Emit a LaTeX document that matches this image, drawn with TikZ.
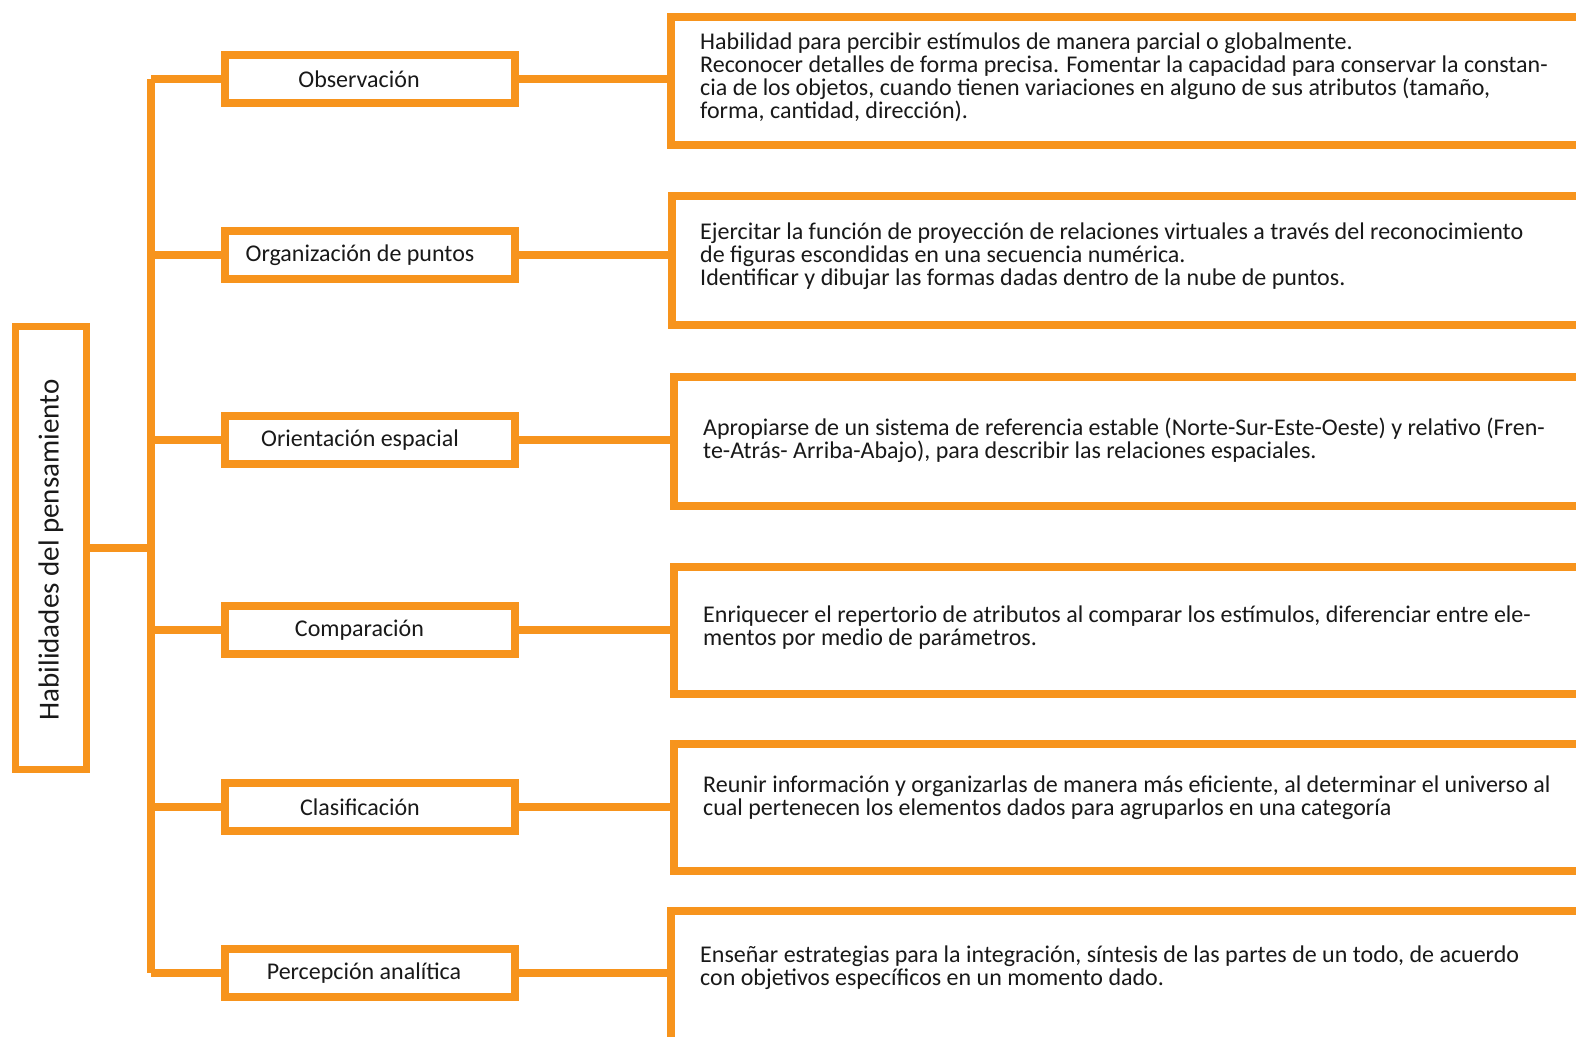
\documentclass[tikz,border=0pt]{standalone}
\usepackage{fontspec}
\setmainfont{Carlito}
\definecolor{org}{HTML}{F7941D}
\begin{document}
\begin{tikzpicture}[x=1pt,y=-1pt,
  edge/.style={draw=org,line width=7.5pt},
  midbox/.style={draw=org,line width=7.5pt,fill=white,rectangle,minimum width=290pt,minimum height=48pt,outer sep=0pt,inner sep=0pt,font=\fontsize{24}{26}\selectfont,text=black!90},
  descbox/.style={draw=org,line width=8pt,fill=white,rectangle,outer sep=0pt,inner sep=0pt},
  desctext/.style={anchor=west,align=left,inner sep=0pt,font=\fontsize{24}{23}\selectfont,text=black!90},
  rootbox/.style={draw=org,line width=7.5pt,fill=white,rectangle,minimum width=71pt,minimum height=443pt,outer sep=0pt,inner sep=0pt}]
\useasboundingbox (0,0) rectangle (1576,1036);
\clip (0,0) rectangle (1576,1036);
\fill[white] (0,0) rectangle (1576,1036);

% spine
\coordinate (spTop) at (151,79);
\coordinate (spBot) at (151,973);
\draw[edge] (spTop) -- (spBot);

% root
\node[rootbox] (root) at (51,548) {};
\node[rotate=90,font=\fontsize{29}{32}\selectfont,text=black!90] (roottext) at (51,550) {Habilidades del pensamiento};
\draw[edge] (root.east) -- (root.east -| spTop);

% middle boxes
\node[midbox] (m1) at (370,79) {Observación\kern22pt};
\node[midbox] (m2) at (370,255) {Organización de puntos\kern20pt};
\node[midbox] (m3) at (370,440) {Orientación espacial\kern20pt};
\node[midbox] (m4) at (370,630) {Comparación\kern21pt};
\node[midbox] (m5) at (370,807) {Clasificación\kern20pt};
\node[midbox] (m6) at (370,973) {Percepción analítica\kern12pt};

\foreach \i in {1,...,6}{\draw[edge] (m\i.west) -- (m\i.west -| spTop);}

% description boxes
\node[descbox,minimum width=1000pt,minimum height=128pt,anchor=north west] (d1) at (671,17) {};
\node[descbox,minimum width=1000pt,minimum height=129pt,anchor=north west] (d2) at (672,196) {};
\node[descbox,minimum width=1000pt,minimum height=129pt,anchor=north west] (d3) at (674,377) {};
\node[descbox,minimum width=1000pt,minimum height=127pt,anchor=north west] (d4) at (674,567) {};
\node[descbox,minimum width=1000pt,minimum height=127pt,anchor=north west] (d5) at (674,744) {};
\node[descbox,minimum width=1000pt,minimum height=200pt,anchor=north west] (d6) at (671,911) {};

\foreach \i in {1,...,6}{\draw[edge] (m\i.east) -- (m\i.east -| d\i.west);}

\node[desctext] (t1) at (700,77) {Habilidad para percibir estímulos de manera parcial o globalmente.\\Reconocer detalles de forma precisa. Fomentar la capacidad para conservar la constan-\\cia de los objetos, cuando tienen variaciones en alguno de sus atributos (tamaño,\\forma, cantidad, dirección).};
\node[desctext] (t2) at (700,256) {Ejercitar la función de proyección de relaciones virtuales a través del reconocimiento\\de figuras escondidas en una secuencia numérica.\\Identificar y dibujar las formas dadas dentro de la nube de puntos.};
\node[desctext] (t3) at (703,440) {Apropiarse de un sistema de referencia estable (Norte-Sur-Este-Oeste) y relativo (Fren-\\te-Atrás- Arriba-Abajo), para describir las relaciones espaciales.};
\node[desctext] (t4) at (703,628) {Enriquecer el repertorio de atributos al comparar los estímulos, diferenciar entre ele-\\mentos por medio de parámetros.};
\node[desctext] (t5) at (703,798) {Reunir información y organizarlas de manera más eficiente, al determinar el universo al\\cual pertenecen los elementos dados para agruparlos en una categoría};
\node[desctext] (t6) at (700,968) {Enseñar estrategias para la integración, síntesis de las partes de un todo, de acuerdo\\con objetivos específicos en un momento dado.};
\end{tikzpicture}
\end{document}
